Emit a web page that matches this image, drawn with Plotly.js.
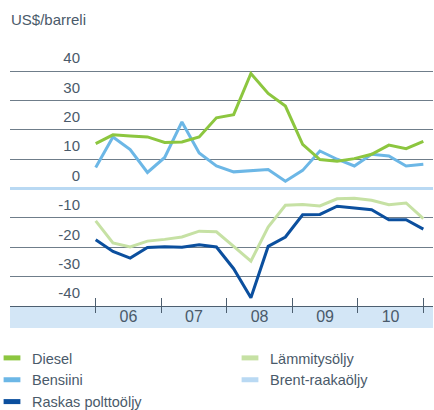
<!DOCTYPE html>
<html>
<head>
<meta charset="utf-8">
<script src="https://cdn.plot.ly/plotly-3.0.1.min.js"></script>
<style>html,body{margin:0;padding:0;background:#fff;}#chart{width:434px;height:410px;}</style>
</head>
<body>
<div id="chart"></div>
<script>
// Quarterly price spreads vs Brent, US$/barrel, 2006-2010
const quarters = [
  '2006 Q1','2006 Q2','2006 Q3','2006 Q4',
  '2007 Q1','2007 Q2','2007 Q3','2007 Q4',
  '2008 Q1','2008 Q2','2008 Q3','2008 Q4',
  '2009 Q1','2009 Q2','2009 Q3','2009 Q4',
  '2010 Q1','2010 Q2','2010 Q3','2010 Q4'
];
const diesel   = [15.3, 18.3, 17.9, 17.6, 15.7, 15.9, 17.6, 24.1, 25.2, 39.2, 32.4, 28.1, 15.1, 9.9, 9.3, 10.2, 11.7, 14.8, 13.6, 16.1];
const bensiini = [7.2, 17.6, 13.3, 5.5, 10.6, 22.7, 12.1, 7.7, 5.7, 6.2, 6.5, 2.5, 6.2, 12.8, 10.0, 7.7, 11.7, 11.1, 7.7, 8.3];
const lammitys = [-11.0, -18.5, -19.9, -17.9, -17.3, -16.5, -14.5, -14.7, -19.7, -24.7, -13.1, -5.7, -5.4, -5.9, -3.5, -3.3, -4.0, -5.5, -4.9, -10.2];
const raskas   = [-17.4, -21.4, -23.7, -20.1, -19.8, -20.0, -19.1, -19.9, -27.3, -37.2, -19.7, -16.5, -8.9, -8.8, -6.0, -6.5, -7.2, -10.6, -10.6, -13.8];
const brent    = [0, 0, 0, 0, 0, 0, 0, 0, 0, 0, 0, 0, 0, 0, 0, 0, 0, 0, 0, 0];

const yearLabels = ['06', '07', '08', '09', '10'];
const yTickVals  = [-40, -30, -20, -10, 0, 10, 20, 30, 40];
const yTickText  = ['-40', '-30', '-20', '-10', '0', '10', '20', '30', '40'];

// x positions: quarters spread evenly from start of 2006 to end of 2010
const n = quarters.length;
const xPos = quarters.map((q, i) => i);
const yearSpan = (n - 1) / yearLabels.length;
const yearBounds = [0, 1, 2, 3, 4, 5].map(k => k * yearSpan);
const yearMids = yearLabels.map((l, k) => (k + 0.5) * yearSpan);

const C = {
  diesel: '#8cc63f',
  bensiini: '#6cb7e6',
  raskas: '#0b4f9e',
  lammitys: '#c6e1a4',
  brent: '#b9d9f3',
  text: '#4a5a6a',
  grid: '#6f7d8a',
  band: '#d3e6f6'
};

function line(name, y, color) {
  return {type: 'scatter', mode: 'lines', name: name, x: xPos, y: y,
    line: {color: color, width: 3}, showlegend: false, hoverinfo: 'skip'};
}
function legendItem(name, color, legendId) {
  return {type: 'scatter', mode: 'markers', name: name, x: [null], y: [null],
    xaxis: 'x2', legend: legendId,
    marker: {symbol: 'line-ew', size: 12, line: {color: color, width: 7}}, showlegend: true};
}

const traces = [
  line('Brent-raakaöljy', brent, C.brent),
  line('Lämmitysöljy', lammitys, C.lammitys),
  line('Raskas polttoöljy', raskas, C.raskas),
  line('Bensiini', bensiini, C.bensiini),
  line('Diesel', diesel, C.diesel),
  legendItem('Diesel', C.diesel, 'legend'),
  legendItem('Bensiini', C.bensiini, 'legend'),
  legendItem('Raskas polttoöljy', C.raskas, 'legend'),
  legendItem('Lämmitysöljy', C.lammitys, 'legend2'),
  legendItem('Brent-raakaöljy', C.brent, 'legend2'),
  {type: 'scatter', mode: 'markers', x: [null], y: [null], xaxis: 'x3', showlegend: false, hoverinfo: 'skip'}
];

const W = 434, H = 410;
const yMax = 40.4, yMin = -40;
const pxPerUnit = 235 / 80;
const mL = 10, mR = 1, mB = 104;
const mT = Math.round((71 - (yMax - 40) * pxPerUnit) * 10) / 10;
const plotW = W - mL - mR, plotH = H - mT - mB;
const xRange = [-4.97, 19.56];
const font = 'Liberation Sans, Arial, sans-serif';

const layout = {
  width: W, height: H,
  margin: {l: mL, r: mR, t: mT, b: mB, autoexpand: false},
  paper_bgcolor: '#ffffff', plot_bgcolor: 'rgba(0,0,0,0)',
  font: {family: font, color: C.text, size: 15},
  title: {text: 'US$/barreli', x: 11 / W, xanchor: 'left', xref: 'container',
    y: 1 - 20 / H, yanchor: 'middle', yref: 'container',
    font: {family: font, size: 15, color: C.text}},
  xaxis: {range: xRange, tickmode: 'array', tickvals: yearMids, ticktext: yearLabels,
    ticks: '', showgrid: false, zeroline: false, showline: true, linecolor: '#4d5f70', linewidth: 1,
    tickfont: {size: 16, color: C.text}, ticklabelstandoff: -4, fixedrange: true},
  xaxis2: {range: xRange, overlaying: 'x', anchor: 'y', side: 'bottom', tickmode: 'array',
    tickvals: yearBounds, ticks: 'outside', ticklen: 6, tickwidth: 1, tickcolor: '#4d5f70',
    showticklabels: false, showgrid: false, zeroline: false, showline: false},
  xaxis3: {range: xRange, overlaying: 'x', anchor: 'y', side: 'bottom', tickmode: 'array',
    tickvals: yearBounds, ticks: 'inside', ticklen: 8, tickwidth: 1, tickcolor: '#4d5f70',
    showticklabels: false, showgrid: false, zeroline: false, showline: false},
  yaxis: {range: [yMin, yMax], tickmode: 'array', tickvals: yTickVals, ticktext: yTickText,
    anchor: 'free', position: (80 - mL) / plotW, side: 'left', ticks: '',
    showgrid: true, gridcolor: C.grid, gridwidth: 1,
    zeroline: true, zerolinecolor: C.brent, zerolinewidth: 3,
    showline: false, tickfont: {size: 15, color: C.text}, ticklabelshift: -13, fixedrange: true},
  shapes: [{type: 'rect', xref: 'paper', yref: 'paper', x0: 0, x1: 1,
    y0: -(22 / plotH), y1: 0, fillcolor: C.band, line: {width: 0}, layer: 'below'}],
  legend: {x: -18 / plotW, xanchor: 'left', y: -(36 / plotH), yanchor: 'top',
    orientation: 'v', bgcolor: 'rgba(0,0,0,0)', tracegroupgap: 0,
    font: {family: font, size: 14.5, color: C.text}, itemclick: false, itemdoubleclick: false},
  legend2: {x: 220 / plotW, xanchor: 'left', y: -(36 / plotH), yanchor: 'top',
    orientation: 'v', bgcolor: 'rgba(0,0,0,0)', tracegroupgap: 0,
    font: {family: font, size: 14.5, color: C.text}, itemclick: false, itemdoubleclick: false},
  showlegend: true,
  hovermode: false
};

Plotly.newPlot('chart', traces, layout, {displayModeBar: false, staticPlot: true});
</script>
</body>
</html>
